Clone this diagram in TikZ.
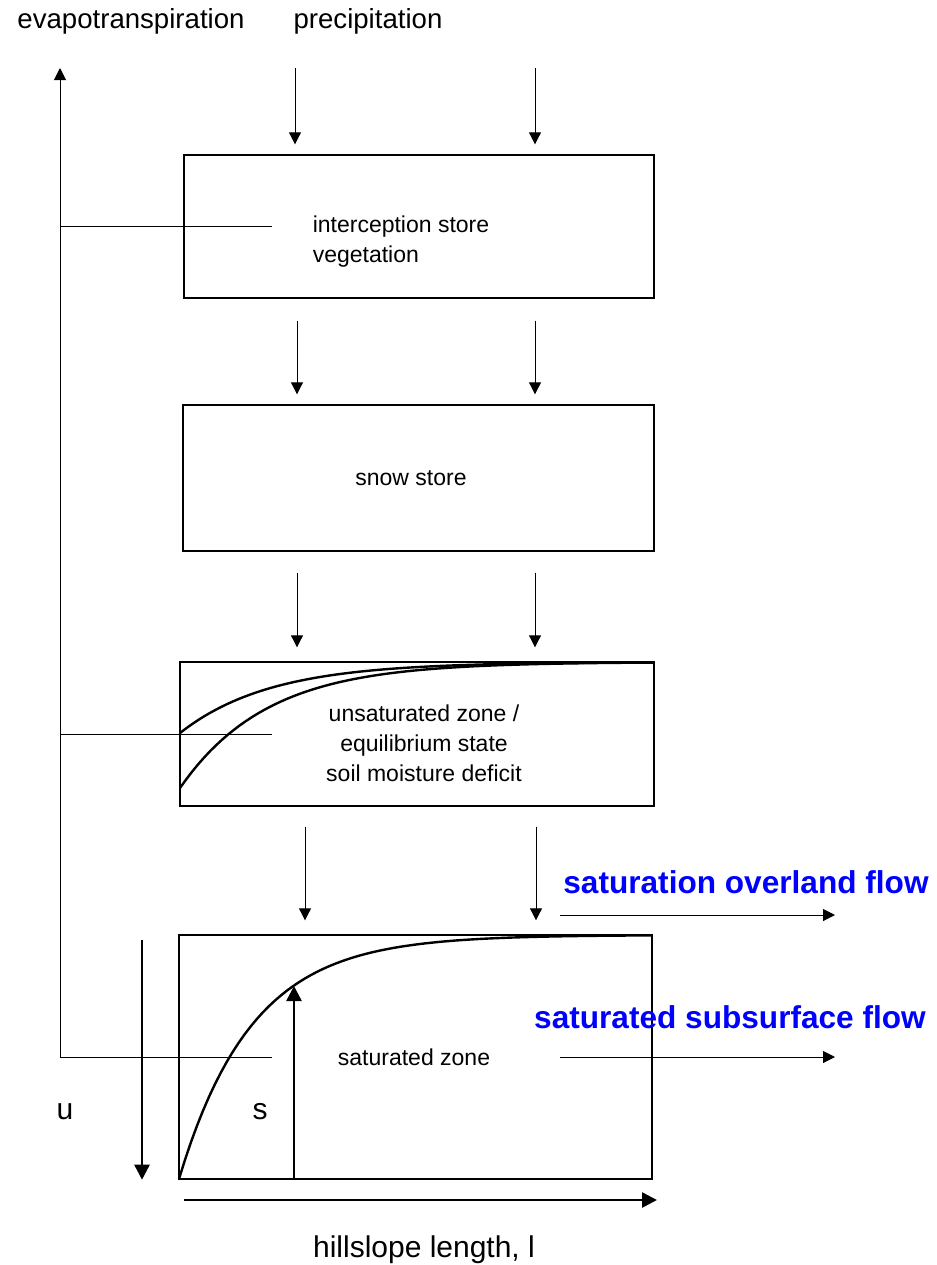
\documentclass[tikz,border=0pt]{standalone}
\usepackage{fontspec}
\setmainfont{Liberation Sans}
\usetikzlibrary{arrows.meta}
\definecolor{flowblue}{RGB}{0,0,255}
\tikzset{
  store/.style={draw, line width=0.7pt, inner sep=0pt},
  boxtext/.style={font=\fontsize{11.5}{15}\selectfont, align=center, inner sep=0pt},
  bigtext/.style={font=\fontsize{13.8}{16}\selectfont, inner sep=0pt},
  outtext/.style={font=\fontsize{15.8}{18}\selectfont\bfseries, text=flowblue, inner sep=0pt},
  flow/.style={line width=0.5pt, -{Triangle[length=6pt,width=6pt]}},
  bigflow/.style={line width=1.3pt, -{Triangle[length=7.5pt,width=7.5pt]}},
  curve/.style={line width=1.2pt}
}
\begin{document}
\begin{tikzpicture}[x=0.5pt,y=-0.5pt]
\useasboundingbox (0,0) rectangle (937,1265);
% stores
\node[store, minimum width=235pt, minimum height=71.5pt] (intc) at (419,226.5){};
\node[store, minimum width=235.5pt, minimum height=73pt] (snow) at (418.5,478){};
\node[store, minimum width=237pt, minimum height=72pt] (unsat) at (417,734){};
\node[store, minimum width=236.5pt, minimum height=122pt] (sat) at (415.5,1057){};
\node[boxtext, align=left] (intc-txt) at (401,242){interception store\\vegetation};
\node[boxtext] (snow-txt) at (411,478){snow store};
\node[boxtext] (unsat-txt) at (424,743){unsaturated zone /\\equilibrium state\\soil moisture deficit};
\node[boxtext] (sat-txt) at (414,1057){saturated zone};
% curves
\draw[curve] plot[domain=180:654, samples=80] (\x, {733-71*(1-exp(-(\x-180)/90))});
\draw[curve] plot[domain=180:654, samples=80] (\x, {788-126*(1-exp(-(\x-180)/87))});
\draw[curve] plot[domain=179:652, samples=80] (\x, {1179-244*(1-exp(-(\x-179)/73))});
% labels
\node[bigtext, anchor=base] (evap) at (131,28){evapotranspiration};
\node[bigtext, anchor=base] (prec) at (368,28){precipitation};
\node[bigtext, anchor=base, font=\fontsize{15}{18}\selectfont] (hill) at (424,1257){hillslope length, l};
\node[bigtext, anchor=base, font=\fontsize{15}{18}\selectfont] (u) at (65,1119){u};
\node[bigtext, anchor=base, font=\fontsize{15}{18}\selectfont] (s) at (260,1119){s};
\node[outtext, anchor=base] (ovl) at (746,893){saturation overland flow};
\node[outtext, anchor=base] (sub) at (730,1028){saturated subsurface flow};
% vertical flows
\coordinate (pl) at (295,68);
\coordinate (pr) at (535,68);
\coordinate (cl) at (297,0);
\coordinate (cr) at (535,0);
\coordinate (dl) at (305,0);
\coordinate (dr) at (536,0);
\draw[flow, shorten >=5pt] (pl) -- (pl |- intc.north);
\draw[flow, shorten >=5pt] (pr) -- (pr |- intc.north);
\draw[flow, shorten <=11pt, shorten >=5pt] (cl |- intc.south) -- (cl |- snow.north);
\draw[flow, shorten <=11pt, shorten >=5pt] (cr |- intc.south) -- (cr |- snow.north);
\draw[flow, shorten <=10.5pt, shorten >=7pt] (cl |- snow.south) -- (cl |- unsat.north);
\draw[flow, shorten <=10.5pt, shorten >=7pt] (cr |- snow.south) -- (cr |- unsat.north);
\draw[flow, shorten <=10pt, shorten >=7pt] (dl |- unsat.south) -- (dl |- sat.north);
\draw[flow, shorten <=10pt, shorten >=7pt] (dr |- unsat.south) -- (dr |- sat.north);
% evapotranspiration
\coordinate (et-top) at (60,68);
\coordinate (tap) at (272,0);
\draw[flow] (et-top |- sat.center) -- (et-top);
\draw[line width=0.5pt] (et-top |- intc.center) -- (tap |- intc.center);
\draw[line width=0.5pt] (et-top |- unsat.center) -- (tap |- unsat.center);
\draw[line width=0.5pt] (et-top |- sat.center) -- (tap |- sat.center);
% outflows
\coordinate (ovl-s) at (560,915);
\coordinate (ovl-e) at (835,915);
\coordinate (sub-s) at (560,1057);
\coordinate (sub-e) at (835,1057);
\draw[flow] (ovl-s) -- (ovl-e);
\draw[flow] (sub-s) -- (sub-e);
% u, s and l
\coordinate (u-top) at (142,940);
\coordinate (s-tip) at (294,986);
\coordinate (l-start) at (184,1200);
\coordinate (l-end) at (657,1200);
\draw[bigflow] (u-top) -- (u-top |- sat.south);
\draw[bigflow] (s-tip |- sat.south) -- (s-tip);
\draw[bigflow] (l-start) -- (l-end);
\end{tikzpicture}
\end{document}
